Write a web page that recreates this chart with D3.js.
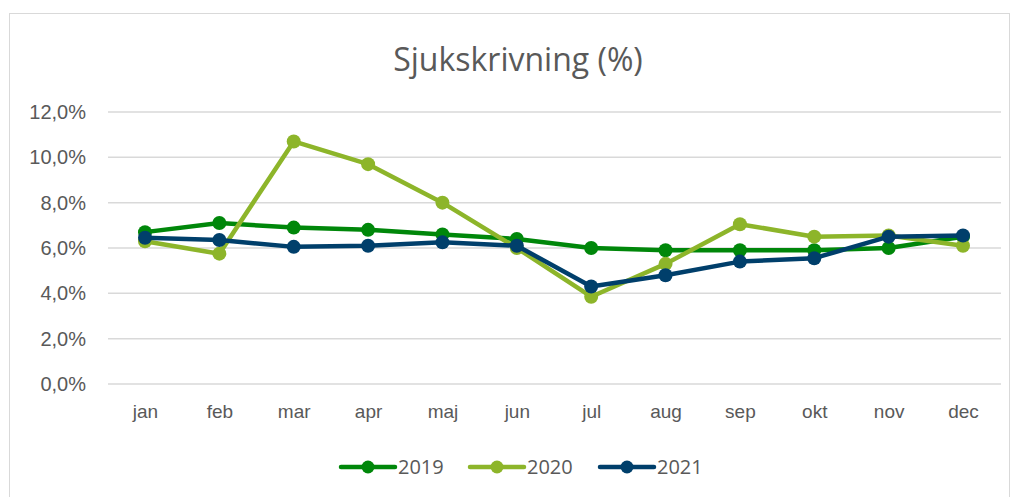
<!DOCTYPE html>
<html><head><meta charset="utf-8">
<script src="https://cdn.jsdelivr.net/npm/d3@7"></script>
<style>body{margin:0;background:#fff;} svg{display:block;font-family:"Open Sans","Liberation Sans",sans-serif;}</style>
</head><body><svg id="c" width="1018" height="497"></svg>
<script>
const months = ["jan","feb","mar","apr","maj","jun","jul","aug","sep","okt","nov","dec"];
const years = ["2019","2020","2021"];
const v2019 = [6.7,7.1,6.9,6.8,6.6,6.4,6.0,5.9,5.9,5.9,6.0,6.5];
const v2020 = [6.3,5.75,10.7,9.7,8.0,6.0,3.85,5.3,7.05,6.5,6.55,6.1];
const v2021 = [6.45,6.35,6.05,6.1,6.25,6.1,4.3,4.8,5.4,5.55,6.5,6.55];
const yTicks = [0,2,4,6,8,10,12];
const colors = ["#00870A","#8DB52A","#003F6B"];
const series = [v2019,v2020,v2021];

const svg = d3.select("#c");
svg.append("rect").attr("x",9.5).attr("y",13.5).attr("width",1000).attr("height",495)
  .attr("fill","#fff").attr("stroke","#d9d9d9");
const x = d3.scalePoint().domain(months).range([145,963]);
const y = d3.scaleLinear().domain([0,12]).range([384,112]);
const fmt = d => d.toFixed(1).replace(".",",")+"%";

svg.append("g").selectAll("line").data(yTicks).join("line")
  .attr("x1",108).attr("x2",1001).attr("y1",d=>y(d)).attr("y2",d=>y(d))
  .attr("stroke","#d9d9d9").attr("stroke-width",1.5);
const ya = svg.append("g").attr("transform","translate(86,0)")
  .call(d3.axisLeft(y).tickValues(yTicks).tickFormat(fmt).tickSize(0).tickPadding(0));
ya.select(".domain").remove();
ya.selectAll("text").attr("fill","#595959").style("font-size","20px").style("font-family","inherit");
const xa = svg.append("g").attr("transform","translate(0,404)")
  .call(d3.axisBottom(x).tickSize(0).tickPadding(0));
xa.select(".domain").remove();
xa.selectAll("text").attr("fill","#595959").style("font-size","19px").style("font-family","inherit");

svg.append("text").attr("x",518).attr("y",71).attr("text-anchor","middle")
  .attr("fill","#595959").style("font-size","32px").text("Sjukskrivning (%)");

const line = d3.line().x((d,i)=>x(months[i])).y(d=>y(d));
series.forEach((s,k)=>{
  const g = svg.append("g");
  g.append("path").datum(s).attr("d",line).attr("fill","none")
    .attr("stroke",colors[k]).attr("stroke-width",4.5).attr("stroke-linejoin","round");
  g.selectAll("circle").data(s).join("circle")
    .attr("cx",(d,i)=>x(months[i])).attr("cy",d=>y(d)).attr("r",7).attr("fill",colors[k]);
});

const lx = [340,469,599];
years.forEach((yr,k)=>{
  const g = svg.append("g").attr("transform",`translate(${lx[k]},467)`);
  g.append("line").attr("x1",1).attr("x2",55).attr("stroke",colors[k]).attr("stroke-width",4.5).attr("stroke-linecap","round");
  g.append("circle").attr("cx",28).attr("r",6.5).attr("fill",colors[k]);
  g.append("text").attr("x",58).attr("y",7).attr("fill","#595959").style("font-size","20px").text(yr);
});
</script></body></html>
